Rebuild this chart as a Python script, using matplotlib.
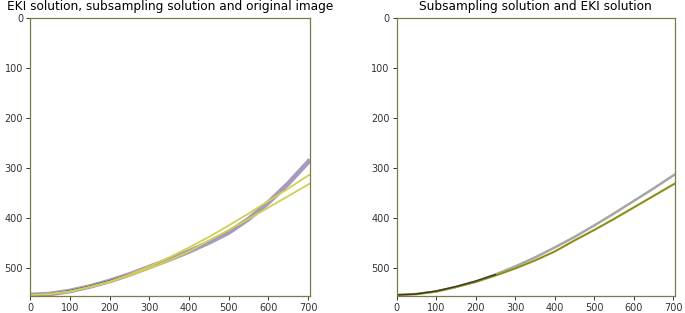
import matplotlib.pyplot as plt

# curve samples (image coords: x right, y down)
xs = [0, 50, 100, 150, 200, 250, 300, 350, 400, 450, 500, 550, 600, 650, 700, 705]
orig_y = [554, 552, 546, 537, 526, 513, 498, 483, 467, 449, 429, 402, 369, 331, 288, 283]
sub_y = [554, 552, 547, 538, 527, 513, 497, 479, 459, 438, 415, 391, 366, 341, 315, 313]
eki_y = [554, 552, 547, 538, 528, 515, 501, 485, 467, 445, 424, 402, 379, 356, 333, 331]

# dark start of the original curve
dark_x = [0, 50, 100, 150, 200, 250]
dark_y = [554, 552, 546, 537, 526, 513]

W, H = 705, 556
spine_col = "#7a7a4a"

fig = plt.figure(figsize=(6.85, 3.13), dpi=100)
ax1 = fig.add_axes([30 / 685, 1 - 296 / 313, 280 / 685, 278 / 313])
ax2 = fig.add_axes([396.5 / 685, 1 - 296 / 313, 278.5 / 685, 278 / 313])

# left: original image + both solutions
ax1.plot(xs, orig_y, color="#9789b2", lw=3.4, alpha=0.85, solid_capstyle="butt")
ax1.plot(dark_x, dark_y, color="#2b2140", lw=1.2, alpha=0.8)
ax1.plot(xs, sub_y, color="#cfcf55", lw=1.3)
ax1.plot(xs, eki_y, color="#cfcf55", lw=1.3)
ax1.set_title("EKI solution, subsampling solution and original image", fontsize=8.7, pad=6)

# right: subsampling vs EKI
ax2.plot(xs, sub_y, color="#a6a6a6", lw=1.8)
ax2.plot(xs, eki_y, color="#a3a32a", lw=1.6)
ax2.plot(xs, eki_y, color="#6e6e10", lw=0.5, alpha=0.8)
ax2.plot(dark_x, dark_y, color="#222222", lw=1.0, alpha=0.8)
ax2.set_title("Subsampling solution and EKI solution", fontsize=8.7, pad=6)

for ax in (ax1, ax2):
    ax.set_xlim(-0.5, W)
    ax.set_ylim(H, -0.5)
    ax.set_xticks(range(0, 701, 100))
    ax.set_yticks(range(0, 501, 100))
    ax.tick_params(labelsize=7, length=3, width=0.7, pad=2, colors="#333333")
    for s in ax.spines.values():
        s.set_color(spine_col)
        s.set_linewidth(0.9)

fig.savefig("out.png", dpi=100)
